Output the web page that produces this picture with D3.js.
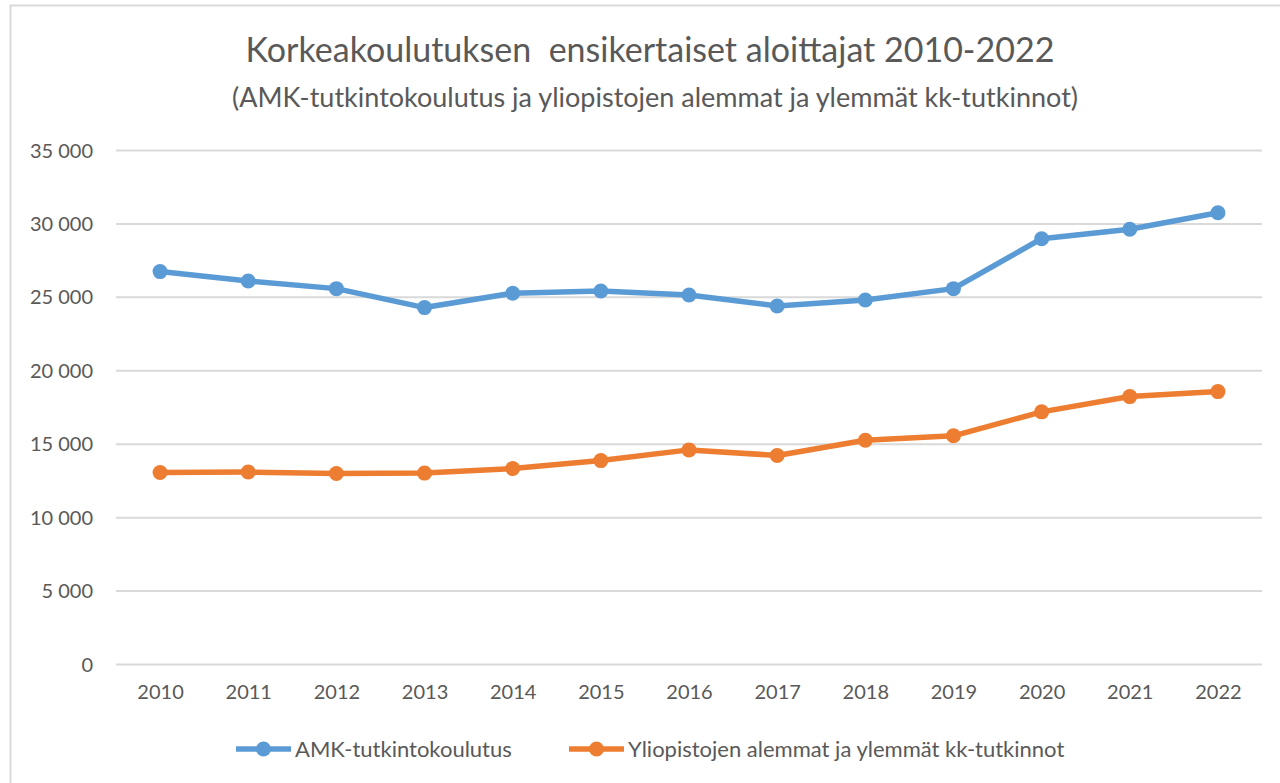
<!DOCTYPE html>
<html>
<head>
<meta charset="utf-8">
<script src="https://cdn.jsdelivr.net/npm/d3@7"></script>
<style>
  body { margin: 0; background: #fff; }
  svg text { font-family: Lato, "Open Sans", sans-serif; fill: #595959; white-space: pre; }
</style>
</head>
<body>
<script>
// data
var years = ["2010","2011","2012","2013","2014","2015","2016","2017","2018","2019","2020","2021","2022"];
var amkValues = [26720, 26080, 25560, 24270, 25250, 25400, 25130, 24380, 24790, 25560, 28960, 29600, 30730];
var yoValues = [13040, 13070, 12970, 13000, 13310, 13850, 14580, 14200, 15240, 15540, 17170, 18210, 18550];
var seriesNames = ["AMK-tutkintokoulutus", "Yliopistojen alemmat ja ylemmät kk-tutkinnot"];
var seriesColors = ["#5B9BD5", "#ED7D31"];
var yTicks = [0, 5000, 10000, 15000, 20000, 25000, 30000, 35000];

var width = 1280;
var height = 783;
var marginLeft = 116;
var marginRight = 18;
var marginTop = 150;
var marginBottom = 119;

var svg = d3.select("body")
            .append("svg")
            .attr("width", width)
            .attr("height", height);

// chart frame (only left & top edges are visible in the picture)
svg.append("rect")
    .attr("x", 10.5)
    .attr("y", 5.5)
    .attr("width", 1400)
    .attr("height", 900)
    .attr("fill", "none")
    .attr("stroke", "#d9d9d9")
    .attr("stroke-width", 2);

var fi = d3.formatLocale({decimal: ",", thousands: "\u00a0", grouping: [3], currency: ["", " €"]});
var fmt = fi.format(",d");

var xScale = d3.scalePoint()
      .domain(years)
      .range([marginLeft, width - marginRight])
      .padding(0.5);

var yScale = d3.scaleLinear()
      .domain([0, 35000])
      .range([height - marginBottom, marginTop]);

// gridlines + y labels
var yAxis = d3.axisLeft(yScale)
      .tickValues(yTicks)
      .tickSize(-(width - marginRight - marginLeft))
      .tickPadding(23)
      .tickFormat(fmt);

var gy = svg.append("g")
    .attr("transform", `translate(${marginLeft},0)`)
    .call(yAxis);
gy.select(".domain").remove();
gy.selectAll(".tick line").attr("stroke", "#d9d9d9").attr("stroke-width", 2);
gy.selectAll(".tick text").style("font-size", "20px").attr("dy", "0.35em");

var xAxis = d3.axisBottom(xScale)
      .tickSize(0)
      .tickPadding(21);

var gx = svg.append("g")
    .attr("transform", `translate(0,${height - marginBottom})`)
    .call(xAxis);
gx.select(".domain").remove();
gx.selectAll(".tick text").style("font-size", "20px");

var series = [amkValues, yoValues];

var line = d3.line()
    .x(function(d, i) { return xScale(years[i]); })
    .y(function(d) { return yScale(d); });

series.forEach(function(vals, s) {
  svg.append("path")
      .datum(vals)
      .attr("fill", "none")
      .attr("stroke", seriesColors[s])
      .attr("stroke-width", 5.5)
      .attr("stroke-linejoin", "round")
      .attr("d", line);

  svg.selectAll(".dot" + s)
      .data(vals)
      .join("circle")
        .attr("cx", function(d, i) { return xScale(years[i]); })
        .attr("cy", function(d) { return yScale(d); })
        .attr("r", 7.5)
        .attr("fill", seriesColors[s]);
});

// title
svg.append("text")
    .attr("x", 650)
    .attr("y", 62)
    .attr("text-anchor", "middle")
    .style("font-size", "34px")
    .text("Korkeakoulutuksen  ensikertaiset aloittajat 2010-2022");

svg.append("text")
    .attr("x", 655)
    .attr("y", 107)
    .attr("text-anchor", "middle")
    .style("font-size", "27px")
    .text("(AMK-tutkintokoulutus ja yliopistojen alemmat ja ylemmät kk-tutkinnot)");

// legend
var legendX = [236, 569];
var legend = svg.selectAll(".legend")
    .data(seriesNames)
    .join("g")
      .attr("transform", function(d, i) { return `translate(${legendX[i]},749)`; });

legend.append("line")
    .attr("x1", 0).attr("x2", 55)
    .attr("stroke", function(d, i) { return seriesColors[i]; })
    .attr("stroke-width", 5.5);
legend.append("circle")
    .attr("cx", 27.5)
    .attr("r", 7.5)
    .attr("fill", function(d, i) { return seriesColors[i]; });
legend.append("text")
    .attr("x", 59)
    .attr("dy", "0.35em")
    .style("font-size", "22px")
    .text(function(d) { return d; });
</script>
</body>
</html>
